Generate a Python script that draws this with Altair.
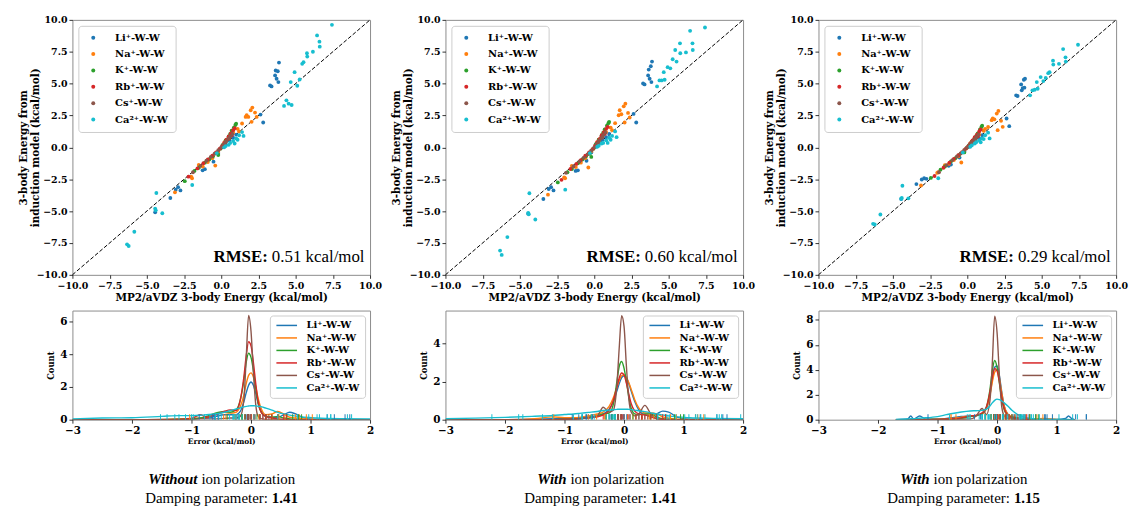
import altair as alt
import pandas as pd

IONS = ["Li⁺-W-W", "Na⁺-W-W", "K⁺-W-W", "Rb⁺-W-W", "Cs⁺-W-W", "Ca²⁺-W-W"]
COLORS = ["#1f77b4", "#ff7f0e", "#2ca02c", "#d62728", "#8c564b", "#17becf"]

# ---- scatter data: MP2 energies (x) and model energies for the three panels ----
li_x = [3.28, 3.38, 3.62, 3.66, 3.72, 3.80, 3.84, 3.88, 2.64, 2.82, -4.44, -3.42, -2.90, -2.74, -3.06, -1.10, -0.52, 0.30, 0.55, 0.80, 1.00, -0.20, 0.10, -1.25]
li_y1 = [4.86, 4.78, 5.64, 6.03, 5.38, 5.97, 5.12, 6.65, 2.57, 1.95, -5.09, -3.97, -3.12, -3.38, -3.32, -1.71, -1.12, 0.25, 0.55, 0.75, 1.00, -0.45, 0.00, -1.80]
li_y2 = [5.01, 4.94, 5.64, 6.10, 5.38, 6.36, 5.12, 6.73, 2.62, 1.95, -5.20, -4.05, -3.12, -3.38, -3.27, -1.80, -1.05, 0.30, 0.60, 0.80, 1.05, -0.40, 0.05, -1.85]
li_y3 = [4.08, 4.03, 4.94, 4.47, 4.65, 5.30, 4.68, 5.38, 2.26, 1.66, -4.05, -2.88, -2.42, -2.47, -2.52, -1.35, -0.80, 0.25, 0.50, 0.70, 0.95, -0.30, 0.05, -1.45]

na_x = [2.09, 1.98, 1.71, 1.64, 1.82, 2.27, 2.38, 2.04, 1.40, -0.40, -1.96, -2.02, -3.11, -1.51, -1.24, -0.90, -0.60, -0.20, 0.20, 0.50, 0.80, 1.10, 0.30, 1.20]
na_y1 = [3.12, 2.91, 2.52, 2.39, 2.39, 2.73, 2.39, 2.00, 1.87, -1.43, -2.42, -2.29, -3.53, -1.38, -1.51, -1.15, -0.85, -0.35, 0.35, 0.75, 1.15, 1.45, 0.55, 1.25]
na_y2 = [3.43, 3.22, 2.91, 2.52, 2.60, 2.70, 2.34, 1.95, 1.90, -1.58, -2.42, -2.35, -3.71, -1.45, -1.55, -1.20, -0.85, -0.30, 0.40, 0.80, 1.20, 1.55, 0.60, 1.35]
na_y3 = [2.86, 2.65, 2.26, 2.13, 2.20, 2.08, 1.61, 1.35, 1.60, -1.19, -1.95, -2.00, -2.99, -1.40, -1.30, -1.00, -0.70, -0.25, 0.30, 0.65, 1.00, 1.30, 0.45, 1.45]

k_x = [-2.45, -1.80, -1.50, -1.10, -0.80, -0.55, -0.20, -0.05, 0.10, 0.30, 0.50, 0.70, 0.85, 0.95, 1.00, 0.60, -0.30]
k_y1 = [-2.65, -1.85, -1.60, -1.20, -0.95, -0.70, -0.60, -0.10, 0.20, 0.55, 0.85, 1.30, 1.55, 1.75, 1.85, 1.05, -0.45]
k_y2 = [-2.75, -1.95, -1.70, -1.25, -0.95, -0.70, -0.75, -0.10, 0.25, 0.60, 0.95, 1.40, 1.70, 1.90, 2.00, 1.15, -0.50]
k_y3 = [-2.40, -1.75, -1.50, -1.10, -0.85, -0.60, -0.40, -0.05, 0.15, 0.45, 0.75, 1.10, 1.40, 1.60, 1.70, 0.90, -0.40]

rb_x = [-2.20, -1.60, -1.20, -0.90, -0.60, -0.35, -0.10, 0.05, 0.20, 0.35, 0.50, 0.65, 0.80, 0.90, 0.45, 0.70]
rb_y1 = [-2.30, -1.65, -1.25, -0.95, -0.65, -0.40, -0.10, 0.10, 0.35, 0.60, 0.85, 1.10, 1.35, 1.50, 0.65, 0.95]
rb_y2 = [-2.55, -1.70, -1.30, -1.00, -0.65, -0.40, -0.12, 0.12, 0.40, 0.65, 0.95, 1.20, 1.45, 1.60, 0.75, 1.05]
rb_y3 = [-2.25, -1.60, -1.20, -0.90, -0.62, -0.38, -0.10, 0.08, 0.30, 0.55, 0.80, 1.00, 1.25, 1.40, 0.60, 0.85]

cs_x = [-1.90, -1.40, -1.00, -0.70, -0.45, -0.20, 0.00, 0.15, 0.30, 0.45, 0.60, 0.75, 0.25, 0.55]
cs_y1 = [-1.95, -1.45, -1.05, -0.75, -0.50, -0.22, 0.00, 0.22, 0.45, 0.65, 0.85, 1.05, 0.30, 0.70]
cs_y2 = [-2.00, -1.50, -1.10, -0.80, -0.55, -0.25, 0.00, 0.25, 0.50, 0.70, 0.95, 1.15, 0.35, 0.80]
cs_y3 = [-1.95, -1.40, -1.00, -0.72, -0.48, -0.20, 0.00, 0.20, 0.40, 0.60, 0.80, 1.00, 0.30, 0.65]

ca_x = [7.44, 6.44, 6.60, 6.62, 5.76, 5.78, 6.16, 5.53, 5.44, 4.93, 4.67, 5.27, 5.11, 4.38, 4.22, 4.53, 4.73, -4.36, -4.44, -4.40, -3.96, -5.84, -6.33, -6.22, -1.95, 0.20, 0.50, 0.80, 1.00, 1.20, 0.60, 1.40, 0.30, 1.10, -0.30, 0.90, 1.50]
ca_y1 = [9.61, 8.78, 8.29, 7.90, 7.38, 7.12, 7.50, 6.68, 6.55, 5.90, 5.12, 5.32, 4.83, 3.69, 3.25, 3.43, 3.32, -3.58, -4.80, -4.94, -5.17, -6.62, -7.61, -7.74, -2.95, 0.00, 0.20, 0.50, 0.70, 0.95, 0.35, 1.20, 0.10, 0.60, -0.45, 0.30, 0.90]
ca_y2 = [9.40, 9.14, 8.16, 7.64, 8.16, 7.38, 7.45, 6.73, 7.64, 6.29, 5.90, 6.91, 6.20, 5.25, 4.78, 5.25, 5.30, -3.60, -5.15, -5.25, -5.66, -7.04, -8.10, -8.44, -3.32, 0.05, 0.30, 0.55, 0.75, 0.90, 0.35, 1.25, 0.12, 0.60, -0.45, 0.35, 0.80]
ca_y3 = [8.05, 7.71, 7.06, 6.73, 6.80, 6.49, 6.55, 5.90, 5.82, 5.51, 5.12, 5.45, 5.20, 4.47, 4.08, 4.52, 4.60, -3.01, -4.03, -3.97, -4.00, -5.27, -6.00, -6.05, -2.42, 0.05, 0.30, 0.55, 0.70, 0.95, 0.40, 1.15, 0.15, 0.65, -0.40, 0.40, 0.70]

# ---- error-density curves ----
GRID_12 = [-3.0, -2.5, -2.0, -1.5, -1.2, -1.0, -0.85, -0.75, -0.6, -0.45, -0.35, -0.25, -0.18, -0.12, -0.08, -0.04, 0.0, 0.04, 0.08, 0.12, 0.18, 0.25, 0.35, 0.45, 0.55, 0.65, 0.75, 0.9, 1.1, 1.5, 2.0]
GRID_3 = [-1.7, -1.5, -1.45, -1.4, -1.3, -1.2, -1.0, -0.85, -0.75, -0.6, -0.45, -0.35, -0.25, -0.18, -0.12, -0.08, -0.04, 0.0, 0.04, 0.08, 0.12, 0.18, 0.25, 0.35, 0.45, 0.6, 0.8, 1.0, 1.15, 1.2, 1.25, 1.3]

p1_li = [0, 0, 0, 0.02, 0.05, 0.05, 0.08, 0.1, 0.2, 0.3, 0.3, 0.3, 0.5, 1.1, 1.65, 2.1, 2.3, 2.1, 1.6, 1.0, 0.45, 0.2, 0.15, 0.15, 0.3, 0.45, 0.35, 0.1, 0.02, 0, 0]
p1_na = [0, 0, 0, 0.02, 0.05, 0.08, 0.1, 0.15, 0.3, 0.45, 0.4, 0.45, 0.8, 1.5, 2.2, 2.7, 2.85, 2.6, 2.0, 1.3, 0.6, 0.3, 0.35, 0.5, 0.35, 0.15, 0.1, 0.05, 0.02, 0, 0]
p1_k = [0, 0, 0, 0, 0.02, 0.05, 0.1, 0.2, 0.4, 0.5, 0.45, 0.6, 1.2, 2.4, 3.5, 4.05, 3.8, 3.0, 1.9, 1.0, 0.4, 0.2, 0.15, 0.2, 0.1, 0.05, 0.02, 0, 0, 0, 0]
p1_rb = [0, 0, 0, 0, 0.02, 0.08, 0.3, 0.15, 0.3, 0.5, 0.6, 0.55, 1.2, 2.6, 3.9, 4.75, 4.5, 3.5, 2.2, 1.1, 0.4, 0.2, 0.1, 0.05, 0.02, 0, 0, 0, 0, 0, 0]
p1_cs = [0, 0, 0, 0, 0, 0.02, 0.05, 0.05, 0.05, 0.08, 0.1, 0.1, 0.2, 1.2, 3.8, 6.35, 5.4, 2.9, 0.9, 0.2, 0.05, 0.02, 0.02, 0.02, 0.01, 0, 0, 0, 0, 0, 0]
p1_ca = [0.05, 0.1, 0.12, 0.2, 0.25, 0.25, 0.27, 0.3, 0.35, 0.45, 0.55, 0.65, 0.72, 0.78, 0.81, 0.83, 0.85, 0.85, 0.84, 0.82, 0.78, 0.7, 0.58, 0.45, 0.35, 0.28, 0.22, 0.15, 0.1, 0.06, 0.05]

p2_li = [0, 0, 0, 0.02, 0.05, 0.05, 0.07, 0.1, 0.15, 0.2, 0.3, 0.55, 0.95, 1.5, 1.9, 2.2, 2.3, 2.2, 1.9, 1.5, 0.95, 0.5, 0.25, 0.2, 0.3, 0.45, 0.4, 0.12, 0.02, 0, 0]
p2_na = [0, 0, 0, 0.05, 0.15, 0.1, 0.1, 0.12, 0.2, 0.3, 0.4, 0.7, 1.15, 1.7, 2.05, 2.3, 2.35, 2.2, 1.95, 1.6, 1.05, 0.6, 0.35, 0.35, 0.3, 0.15, 0.08, 0.03, 0.01, 0, 0]
p2_k = [0, 0, 0, 0, 0, 0.02, 0.03, 0.05, 0.1, 0.2, 0.3, 0.35, 0.8, 2.0, 2.8, 3.05, 2.7, 2.0, 1.2, 0.6, 0.3, 0.25, 0.3, 0.3, 0.15, 0.05, 0.02, 0, 0, 0, 0]
p2_rb = [0, 0, 0, 0, 0, 0.02, 0.03, 0.05, 0.1, 0.15, 0.25, 0.5, 1.0, 1.7, 2.2, 2.45, 2.35, 1.9, 1.35, 0.85, 0.45, 0.3, 0.25, 0.15, 0.05, 0.02, 0, 0, 0, 0, 0]
p2_cs = [0, 0, 0, 0, 0, 0, 0.02, 0.05, 0.1, 0.2, 0.65, 0.4, 0.5, 1.8, 3.8, 5.45, 4.9, 2.8, 1.1, 0.4, 0.2, 0.3, 0.75, 0.3, 0.05, 0, 0, 0, 0, 0, 0]
p2_ca = [0.05, 0.08, 0.12, 0.18, 0.22, 0.27, 0.3, 0.33, 0.38, 0.43, 0.48, 0.5, 0.52, 0.54, 0.55, 0.55, 0.55, 0.55, 0.54, 0.53, 0.5, 0.47, 0.42, 0.36, 0.3, 0.25, 0.2, 0.15, 0.1, 0.07, 0.05]

p3_li = [0, 0.05, 0.3, 0.05, 0.3, 0.05, 0.05, 0.1, 0.15, 0.25, 0.3, 0.35, 0.5, 0.9, 2.0, 3.2, 4.2, 4.3, 3.5, 2.2, 1.1, 0.45, 0.2, 0.1, 0.05, 0.02, 0.02, 0.02, 0.1, 0.3, 0.1, 0]
p3_na = [0, 0, 0, 0, 0.01, 0.02, 0.03, 0.05, 0.1, 0.2, 0.3, 0.35, 0.45, 0.9, 1.9, 3.0, 3.8, 4.0, 3.3, 2.1, 1.1, 0.45, 0.25, 0.15, 0.1, 0.05, 0.1, 0.02, 0, 0, 0, 0]
p3_k = [0, 0, 0, 0, 0, 0, 0.02, 0.03, 0.05, 0.1, 0.25, 0.3, 0.5, 1.0, 2.4, 3.9, 4.75, 4.2, 2.9, 1.6, 0.8, 0.35, 0.2, 0.15, 0.05, 0.02, 0, 0, 0, 0, 0, 0]
p3_rb = [0, 0, 0, 0, 0, 0, 0.02, 0.05, 0.08, 0.15, 0.3, 0.35, 0.55, 1.0, 2.2, 3.4, 4.1, 3.9, 3.0, 1.8, 0.9, 0.35, 0.15, 0.08, 0.03, 0.01, 0, 0, 0, 0, 0, 0]
p3_cs = [0, 0, 0, 0, 0, 0, 0, 0.01, 0.02, 0.03, 0.05, 0.3, 0.9, 0.4, 1.5, 4.5, 8.3, 7.0, 3.5, 1.0, 0.3, 0.1, 0.05, 0.02, 0, 0, 0, 0, 0, 0, 0, 0]
p3_ca = [0.02, 0.05, 0.07, 0.08, 0.12, 0.15, 0.25, 0.4, 0.5, 0.62, 0.7, 0.72, 0.75, 0.85, 1.1, 1.35, 1.55, 1.65, 1.6, 1.5, 1.35, 1.1, 0.75, 0.4, 0.2, 0.08, 0.03, 0.02, 0.01, 0.01, 0, 0]

RMSE_VALUES = ["0.51 kcal/mol", "0.60 kcal/mol", "0.29 kcal/mol"]
CAP_A = ["Without", "With", "With"]
CAP_B = ["ion polarization", "ion polarization", "ion polarization"]
CAP_C = ["Damping parameter:", "Damping parameter:", "Damping parameter:"]
CAP_D = ["1.41", "1.41", "1.15"]

SC_TICKS = [-10, -7.5, -5, -2.5, 0, 2.5, 5, 7.5, 10]
KDE_XTICKS = [-3, -2, -1, 0, 1, 2]
KDE_TOP = [6.65, 5.72, 8.75]
KDE_TICKS = [[0, 2, 4, 6], [0, 2, 4], [0, 2, 4, 6, 8]]

# ---- assemble tables ----
xs = [li_x, na_x, k_x, rb_x, cs_x, ca_x]
ys = [[li_y1, na_y1, k_y1, rb_y1, cs_y1, ca_y1],
      [li_y2, na_y2, k_y2, rb_y2, cs_y2, ca_y2],
      [li_y3, na_y3, k_y3, rb_y3, cs_y3, ca_y3]]
rows = []
for p in range(3):
    for i, ion in enumerate(IONS):
        for xv, yv in zip(xs[i], ys[p][i]):
            rows.append({"panel": p, "ion": ion, "mp2": xv, "model": yv})
df_sc = pd.DataFrame(rows)

kde_sets = [(GRID_12, [p1_li, p1_na, p1_k, p1_rb, p1_cs, p1_ca]),
            (GRID_12, [p2_li, p2_na, p2_k, p2_rb, p2_cs, p2_ca]),
            (GRID_3, [p3_li, p3_na, p3_k, p3_rb, p3_cs, p3_ca])]
krows = []
for p, (grid, series) in enumerate(kde_sets):
    for i, ion in enumerate(IONS):
        for g, v in zip(grid, series[i]):
            krows.append({"panel": p, "ion": ion, "err": g, "dens": v, "order": g})
df_kde = pd.DataFrame(krows)

diag_df = pd.DataFrame({"mp2": [-10, 10], "model": [-10, 10]})

SERIF = "DejaVu Serif"
TIMES = "'Liberation Serif', 'Times New Roman', Times, serif"
color_scale = alt.Scale(domain=IONS, range=COLORS)

W = 300
H_SC = 257
H_KDE = 110
H_CAP = 50


def scatter(p):
    d = df_sc[df_sc.panel == p]
    xenc = alt.X("mp2:Q", scale=alt.Scale(domain=[-10, 10], nice=False, zero=False),
                 axis=alt.Axis(values=SC_TICKS, tickCount=len(SC_TICKS), format=".1f",
                               title="MP2/aVDZ 3-body Energy (kcal/mol)",
                               labelFontSize=9.5, titleFontSize=10.5, titlePadding=3,
                               labelOverlap=False, labelFlush=False))
    yenc = alt.Y("model:Q", scale=alt.Scale(domain=[-10, 10], nice=False, zero=False),
                 axis=alt.Axis(values=SC_TICKS, tickCount=len(SC_TICKS), format=".1f",
                               title=["3-body Energy from", "induction model (kcal/mol)"],
                               labelFontSize=9.5, titleFontSize=10.5, titlePadding=-4, titleLineHeight=12,
                               labelOverlap=False, labelFlush=False))
    pts = alt.Chart(d).mark_circle(size=15, opacity=1).encode(
        x=xenc, y=yenc,
        color=alt.Color("ion:N", scale=color_scale, sort=IONS,
                        legend=alt.Legend(title=None, orient="top-left", offset=6, padding=7,
                                          strokeColor="#cccccc", fillColor="white", cornerRadius=3,
                                          labelFont=SERIF, labelFontWeight="bold", labelFontSize=10,
                                          labelColor="black", symbolType="circle", symbolSize=16,
                                          symbolStrokeWidth=0, rowPadding=6.5, labelOffset=17,
                                          symbolOffset=3)))
    diag = alt.Chart(diag_df).mark_line(color="black", strokeDash=[4, 2], strokeWidth=1).encode(
        x="mp2:Q", y="model:Q")
    rm = pd.DataFrame({"k": ["RMSE:"], "v": [RMSE_VALUES[p]]})
    t1 = alt.Chart(rm).mark_text(align="right", baseline="middle", font=TIMES, fontWeight="bold",
                                 fontSize=17, color="black").encode(
        x=alt.value(197), y=alt.value(239), text="k:N")
    t2 = alt.Chart(rm).mark_text(align="left", baseline="middle", font=TIMES,
                                 fontSize=17, color="black").encode(
        x=alt.value(201), y=alt.value(239), text="v:N")
    return alt.layer(diag, pts, t1, t2).properties(width=W, height=H_SC)


KDE_LEGEND = alt.Legend(title=None, orient="top-right", offset=5, padding=5,
                        strokeColor="#cccccc", fillColor="white", cornerRadius=3,
                        labelFont=SERIF, labelFontWeight="bold", labelFontSize=10,
                        labelColor="black", symbolType="M-2.6,0H2.6", symbolSize=64,
                        symbolStrokeWidth=1.5, rowPadding=2.6, labelOffset=15, symbolOffset=7)


def kde(p):
    d = df_kde[df_kde.panel == p]
    xenc = alt.X("err:Q", scale=alt.Scale(domain=[-3, 2], nice=False, zero=False),
                 axis=alt.Axis(values=KDE_XTICKS, tickCount=len(KDE_XTICKS), format="d",
                               title="Error (kcal/mol)",
                               labelFontSize=10.5, titleFontSize=7.5, titlePadding=2,
                               labelOverlap=False, labelFlush=False))
    yenc = alt.Y("dens:Q", scale=alt.Scale(domain=[0, KDE_TOP[p]], nice=False),
                 axis=alt.Axis(values=KDE_TICKS[p], tickCount=len(KDE_TICKS[p]), format="d",
                               title="Count",
                               labelFontSize=10.5, titleFontSize=8.5, titlePadding=4,
                               labelOverlap=False, labelFlush=False))
    lines = alt.Chart(d).mark_line(strokeWidth=1.4, interpolate="monotone", clip=True).encode(
        x=xenc, y=yenc, order="order:Q",
        color=alt.Color("ion:N", scale=color_scale, sort=IONS, legend=KDE_LEGEND))
    rug = alt.Chart(df_sc[df_sc.panel == p]).transform_calculate(
        err="datum.model - datum.mp2").mark_rule(strokeWidth=1, clip=True).encode(
        x="err:Q", y=alt.datum(0), y2=alt.datum(KDE_TOP[p] * 0.05),
        color=alt.Color("ion:N", scale=color_scale, sort=IONS, legend=KDE_LEGEND))
    return alt.layer(lines, rug).properties(width=W, height=H_KDE)


CAP_CX = [150, 156, 146]
CAP_SPLIT1 = [-24, -34, -34]


def caption(p):
    d = pd.DataFrame({"a": [CAP_A[p]], "b": [CAP_B[p]], "c": [CAP_C[p]], "d": [CAP_D[p]]})
    cx = CAP_CX[p]
    s1 = cx + CAP_SPLIT1[p]
    s2 = cx + 51
    base = alt.Chart(d)
    a = base.mark_text(align="right", baseline="middle", font=TIMES, fontSize=15, fontWeight="bold",
                       fontStyle="italic", color="black").encode(x=alt.value(s1), y=alt.value(24), text="a:N")
    b = base.mark_text(align="left", baseline="middle", font=TIMES, fontSize=15,
                       color="black").encode(x=alt.value(s1 + 4), y=alt.value(24), text="b:N")
    c = base.mark_text(align="right", baseline="middle", font=TIMES, fontSize=15,
                       color="black").encode(x=alt.value(s2 - 4), y=alt.value(43), text="c:N")
    dd = base.mark_text(align="left", baseline="middle", font=TIMES, fontSize=15, fontWeight="bold",
                        color="black").encode(x=alt.value(s2), y=alt.value(43), text="d:N")
    return alt.layer(a, b, c, dd).properties(width=W, height=H_CAP,
                                              view=alt.ViewBackground(stroke="transparent"))


cols = []
for p in range(3):
    cols.append(alt.vconcat(scatter(p), kde(p), caption(p), spacing=36, bounds="flush")
                .resolve_scale(color="independent"))

chart = alt.hconcat(*cols, spacing=7).resolve_scale(color="independent").properties(
    padding={"left": 17, "top": 12, "right": 0, "bottom": 0}
).configure_view(stroke="#8c8c8c", strokeWidth=1).configure_axis(
    labelFont=SERIF, labelFontWeight="bold", labelColor="black",
    titleFont=SERIF, titleFontWeight="bold", titleColor="black",
    domain=False, grid=False, ticks=True, tickSize=3.5, tickColor="black", tickWidth=0.8,
    labelPadding=2
)

chart.save("out.html", embed_options={"renderer": "svg", "actions": False})
